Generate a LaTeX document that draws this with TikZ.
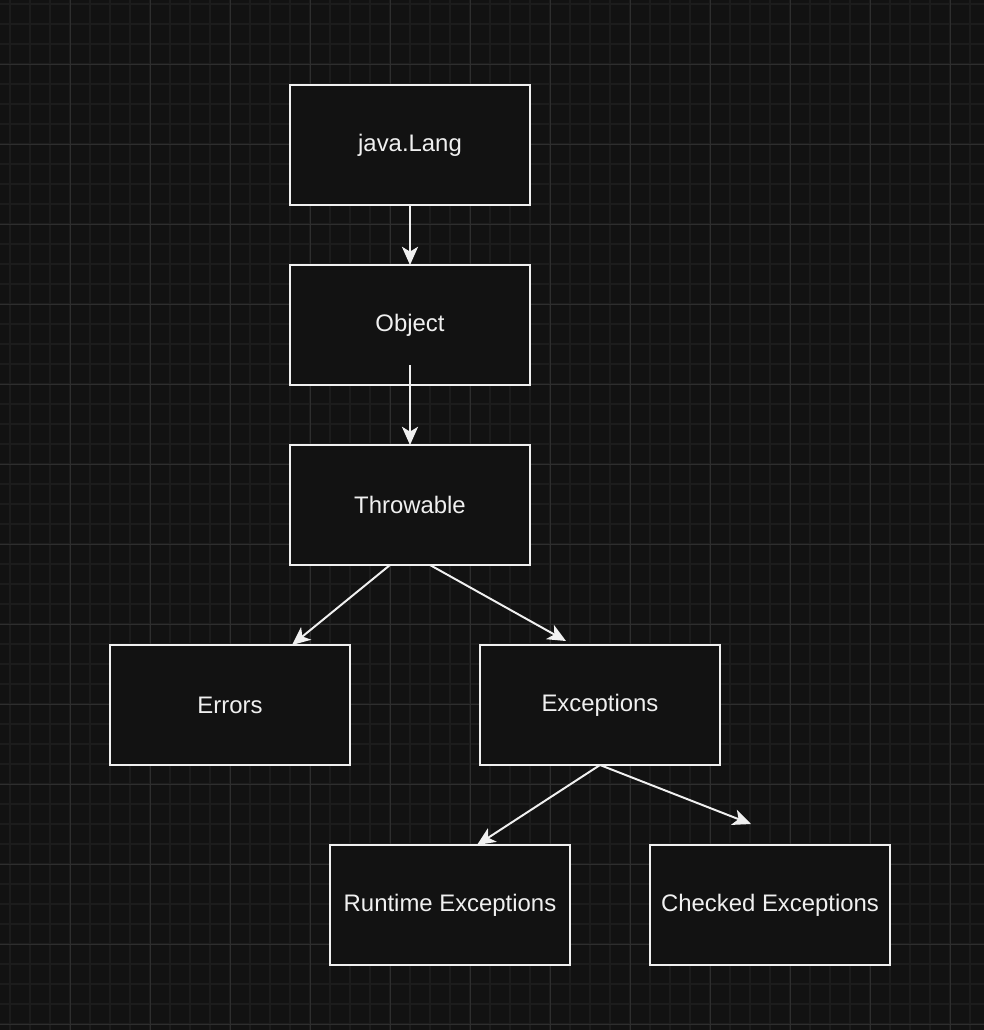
\documentclass[tikz,border=0pt]{standalone}
\usepackage{fontspec}
\setmainfont{Liberation Sans}
\usepackage{tikz}
\usetikzlibrary{arrows.meta, positioning, calc}
\definecolor{fondo}{HTML}{121212}
\definecolor{rejillaMenor}{HTML}{1C1C1C}
\definecolor{rejillaMayor}{HTML}{2E2E2E}
\definecolor{trazo}{HTML}{F0F0F0}

\begin{document}
\begin{tikzpicture}[
        node distance=1.5cm,
        s/.style={draw=trazo, fill=fondo, line width=1.4pt, outer sep=0pt,
            minimum width=6cm, minimum height=3cm, text=trazo,
            font=\fontsize{17}{20}\selectfont},
        rel/.style={-{Stealth[length=13pt, width=11.5pt, inset=3.5pt]}, trazo, line width=1.4pt}
    ]
        % fondo y rejilla
        \fill[fondo] (0,0) rectangle (24.6,-25.75);
        \useasboundingbox (0,0) rectangle (24.6,-25.75);
        \foreach \x in {0.25,0.75,...,24.6} \draw[rejillaMenor, line width=1.1pt] (\x,0) -- (\x,-25.75);
        \foreach \y in {0.1,0.6,...,25.75} \draw[rejillaMenor, line width=1.1pt] (0,-\y) -- (24.6,-\y);
        \foreach \x in {1.75,3.75,...,24.6} \draw[rejillaMayor, line width=0.6pt] (\x,0) -- (\x,-25.75);
        \foreach \y in {1.6,3.6,...,25.75} \draw[rejillaMayor, line width=0.6pt] (0,-\y) -- (24.6,-\y);

        \node[s] (java) at (10.25,-3.625) {java.Lang};
        \node[s, below=of java] (obj) {Object};
        \node[s, below=of obj] (thr) {Throwable};
        \node[s, below=2cm of thr, xshift=-4.5cm] (err) {Errors};
        \node[s, below=2cm of thr, xshift=4.75cm] (exc) {Exceptions};
        \node[s, below=2cm of exc, xshift=-3.75cm] (run) {Runtime Exceptions};
        \node[s, below=2cm of exc, xshift=4.25cm] (chk) {Checked Exceptions};

        \draw[rel] (java.south) -- (obj.north);
        \draw[rel] ($(obj.south)+(0,0.5)$) -- (thr.north);
        \draw[rel] ($(thr.south)+(-0.5,0)$) -- ($(err.north)+(1.55,0)$);
        \draw[rel] ($(thr.south)+(0.5,0)$) -- ($(exc.north)+(-0.85,0.1)$);
        \draw[rel] (exc.south) -- ($(run.north)+(0.675,0)$);
        \draw[rel] (exc.south) -- ($(chk.north)+(-0.475,0.525)$);
    \end{tikzpicture}
\end{document}
